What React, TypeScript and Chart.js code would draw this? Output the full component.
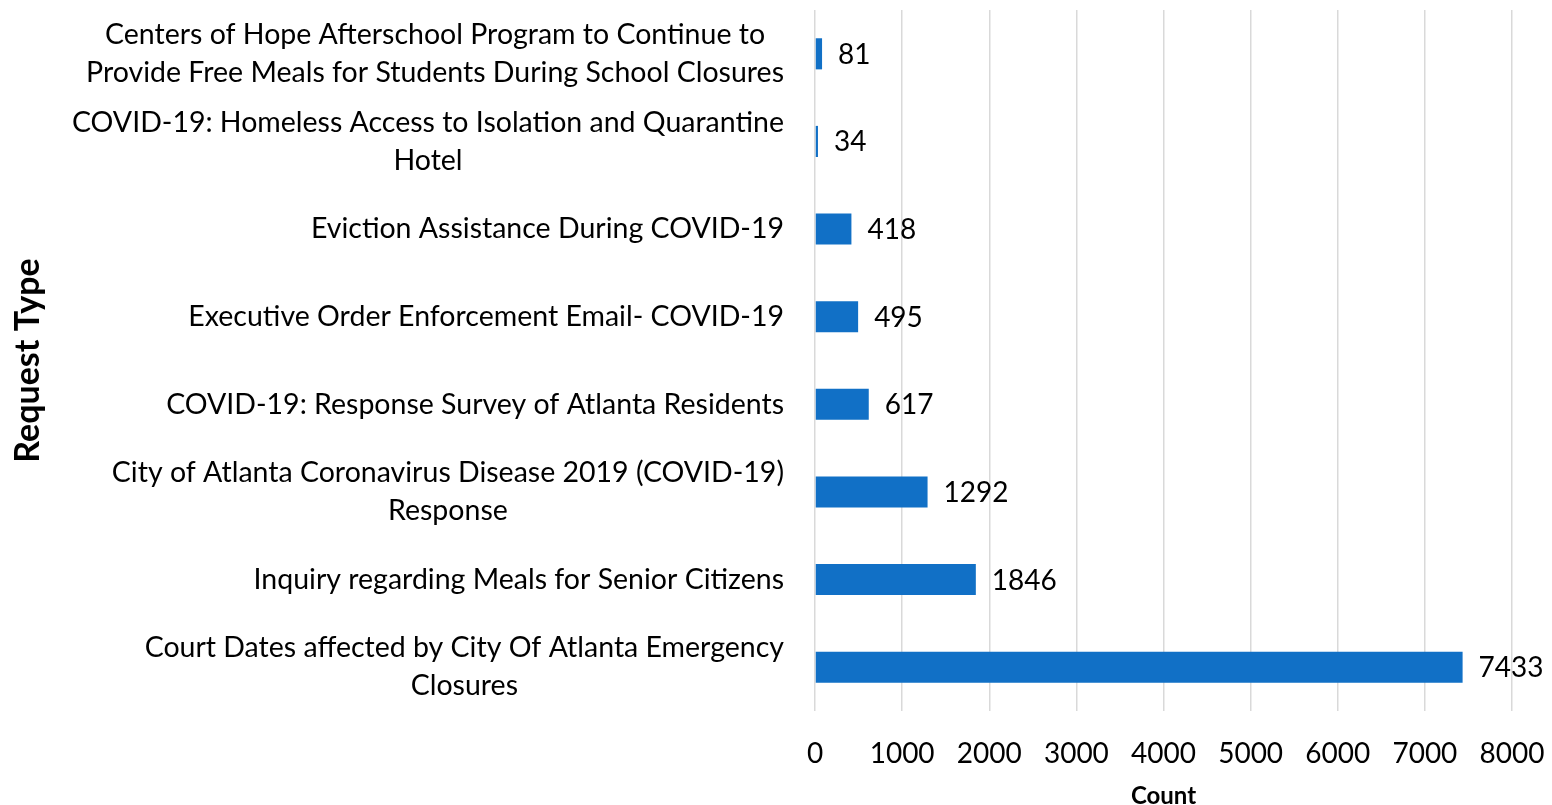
import React, { useEffect, useRef } from "react";
import { Chart, registerables } from "chart.js";

Chart.register(...registerables);

const categories: string[][] = [
  ["Centers of Hope Afterschool Program to Continue to", "Provide Free Meals for Students During School Closures"],
  ["COVID-19: Homeless Access to Isolation and Quarantine", "Hotel"],
  ["Eviction Assistance During COVID-19"],
  ["Executive Order Enforcement Email- COVID-19"],
  ["COVID-19: Response Survey of Atlanta Residents"],
  ["City of Atlanta Coronavirus Disease 2019 (COVID-19)", "Response"],
  ["Inquiry regarding Meals for Senior Citizens"],
  ["Court Dates affected by City Of Atlanta Emergency", "Closures"],
];
const counts: number[] = [81, 34, 418, 495, 617, 1292, 1846, 7433];
const xMin = 0;
const xMax = 8000;
const xStep = 1000;

const FONT = "Lato, 'Open Sans', sans-serif";
const LABEL_SIZE = 28.5;
const TICK_SIZE = 28;

const labelsPlugin = {
  id: "customLabels",
  afterDraw(chart: any) {
    const ctx = chart.ctx;
    const yScale = chart.scales.y;
    ctx.save();
    ctx.font = `${LABEL_SIZE}px ${FONT}`;
    ctx.fillStyle = "#000";
    ctx.textBaseline = "middle";
    ctx.textAlign = "center";
    const rightEdge = 784;
    const lh = 38;
    categories.forEach((lines, i) => {
      const yc = yScale.getPixelForValue(i);
      const w = Math.max(...lines.map((l) => ctx.measureText(l).width));
      const cx = rightEdge - w / 2;
      const y0 = yc - ((lines.length - 1) * lh) / 2;
      lines.forEach((l, j) => ctx.fillText(l, cx, y0 + j * lh));
    });
    // data labels
    ctx.font = `${TICK_SIZE}px ${FONT}`;
    const meta = chart.getDatasetMeta(0);
    ctx.textAlign = "left";
    meta.data.forEach((bar: any, i: number) => {
      ctx.fillText(String(counts[i]), bar.x + 16, bar.y + 1);
    });
    ctx.restore();
  },
};

export default function App() {
  const ref = useRef<HTMLCanvasElement | null>(null);
  useEffect(() => {
    if (!ref.current) return;
    const chart = new Chart(ref.current, {
      type: "bar",
      data: {
        labels: categories.map((c) => c.join(" ")),
        datasets: [
          {
            data: counts,
            backgroundColor: "#1170C6",
            borderWidth: 0,
            barPercentage: 0.71,
            categoryPercentage: 0.5,
          },
        ],
      },
      options: {
        indexAxis: "y",
        animation: false,
        responsive: true,
        maintainAspectRatio: false,
        layout: { padding: { left: 0, right: 0, top: 10, bottom: 0 } },
        plugins: {
          legend: { display: false },
          tooltip: { enabled: false },
          title: { display: false },
        },
        scales: {
          x: {
            min: xMin,
            max: xMax,
            ticks: {
              stepSize: xStep,
              color: "#000",
              font: { family: FONT, size: TICK_SIZE },
              padding: 26,
              maxRotation: 0,
              callback: (v: any) => String(v),
            },
            grid: { color: "#D9D9D9", lineWidth: 1.5, drawTicks: false, tickLength: 0 },
            border: { display: false },
            title: {
              display: true,
              text: "Count",
              color: "#000",
              font: { family: FONT, size: 24, weight: "bold", lineHeight: 1 },
              padding: { top: 0, bottom: -3 },
            },
            afterFit: (scale: any) => {
              scale.height = 94;
              scale.paddingRight = 40;
              scale.paddingLeft = 0;
            },
          },
          y: {
            ticks: { display: false },
            grid: { display: false },
            border: { display: false },
            title: {
              display: true,
              text: "Request Type",
              color: "#000",
              font: { family: FONT, size: 34, weight: "bold", lineHeight: 1 },
              padding: { top: 11, bottom: 0 },
            },
            afterFit: (scale: any) => {
              scale.width = 815;
            },
          },
        },
      },
      plugins: [labelsPlugin],
    });
    return () => chart.destroy();
  }, []);
  return (
    <div style={{ position: "fixed", left: 0, top: 0, width: 1552, height: 805, background: "#fff" }}>
      <canvas ref={ref} />
    </div>
  );
}
